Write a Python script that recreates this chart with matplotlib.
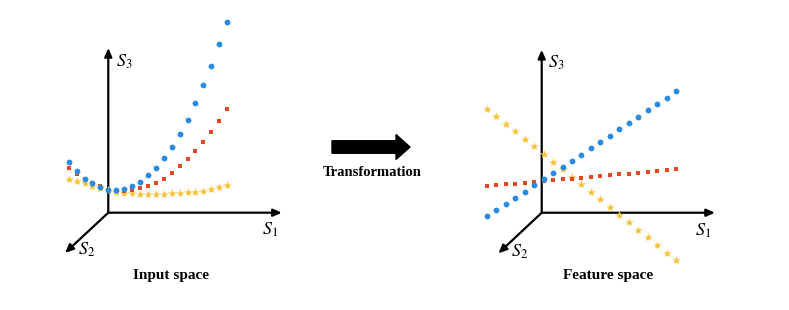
import matplotlib
matplotlib.use("Agg")
import matplotlib.pyplot as plt
from matplotlib.patches import FancyArrow

plt.rcParams['mathtext.fontset'] = 'stix'

# Input space (S1 position, S3 height)
s1_in = [-5, -4, -3, -2, -1, 0, 1, 2, 3, 4, 5, 6, 7, 8, 9, 10, 11, 12, 13, 14, 15]
blue_in = [6.4, 5.3, 4.3, 3.7, 3.3, 2.9, 2.9, 3.0, 3.4, 3.9, 4.7, 5.7, 6.9, 8.3, 9.9, 11.7, 13.8, 16.1, 18.5, 21.3, 24.1]
red_in = [5.6, 4.9, 4.3, 3.8, 3.4, 2.9, 2.8, 2.8, 2.9, 3.1, 3.4, 3.8, 4.3, 5.0, 5.9, 6.8, 7.8, 8.9, 10.2, 11.6, 13.1]
yellow_in = [4.3, 4.0, 3.7, 3.4, 3.1, 2.9, 2.65, 2.5, 2.45, 2.4, 2.35, 2.3, 2.4, 2.45, 2.5, 2.6, 2.65, 2.8, 3.0, 3.2, 3.5]

# Feature space
s1_ft = [-5.8, -4.8, -3.8, -2.8, -1.8, -0.8, 0.2, 1.2, 2.2, 3.2, 4.2, 5.2, 6.2, 7.2, 8.2, 9.2, 10.2, 11.2, 12.2, 13.2, 14.2]
blue_ft = [-0.35, 0.25, 0.9, 1.55, 2.2, 2.9, 3.6, 4.2, 4.85, 5.5, 6.1, 6.8, 7.45, 8.1, 8.8, 9.45, 10.1, 10.8, 11.45, 12.1, 12.8]
red_ft = [2.82, 2.9, 2.99, 3.08, 3.17, 3.26, 3.34, 3.43, 3.52, 3.61, 3.7, 3.79, 3.87, 3.96, 4.05, 4.14, 4.23, 4.31, 4.4, 4.49, 4.58]
yellow_ft = [11.0, 10.2, 9.4, 8.6, 7.8, 7.0, 6.2, 5.4, 4.6, 3.8, 3.0, 2.2, 1.4, 0.6, -0.2, -1.0, -1.8, -2.6, -3.4, -4.2, -5.0]

c_blue = '#2a8be3'
c_red = '#e5481e'
c_yellow = '#f5bf2e'

fig = plt.figure(figsize=(7.89, 3.10), dpi=100)


def panel(rect, xlim, ylim, s1, blue, red, yellow, ends, lbls, title):
    ax = fig.add_axes(rect)
    ax.set_xlim(xlim)
    ax.set_ylim(ylim)
    ax.axis('off')
    ap = dict(arrowstyle='-|>,head_length=0.5,head_width=0.22', color='black', lw=1.6, shrinkA=0, shrinkB=0)
    for e in ends:
        ax.annotate('', xy=e, xytext=(0, 0), arrowprops=ap)
    ax.plot(s1, yellow, '*', color=c_yellow, ms=6, mew=0.4, mec='#f9d77a', zorder=3)
    ax.plot(s1, red, 's', color=c_red, ms=3.4, mew=0, zorder=4)
    ax.plot(s1, blue, 'o', color=c_blue, ms=4.2, mew=0, zorder=5)
    for (x, y, t) in lbls:
        ax.text(x, y, t, fontsize=13, ha='center', va='center')
    ax.text(title[0], title[1], title[2], fontsize=11, fontweight='bold',
            family='Liberation Serif', ha='center', va='center')
    return ax


panel([40 / 789, 0, 260 / 789, 1], (-8.62, 24.2), (-12.29, 26.86),
      s1_in, blue_in, red_in, yellow_in,
      [(21.9, 0), (0, 20.8), (-5.47, -5.09)],
      [(2.0, 19.0, '$S_3$'), (20.4, -2.2, '$S_1$'), (-2.7, -4.7, '$S_2$')],
      (7.9, -7.9, 'Input space'))

panel([460 / 789, 0, 280 / 789, 1], (-8.63, 20.94), (-10.27, 22.46),
      s1_ft, blue_ft, red_ft, yellow_ft,
      [(18.3, 0), (0, 17.2), (-4.58, -4.29)],
      [(1.5, 15.8, '$S_3$'), (17.0, -1.9, '$S_1$'), (-2.3, -4.15, '$S_2$')],
      (7.0, -6.6, 'Feature space'))

fig.add_artist(FancyArrow(332 / 789, 1 - 147 / 310, 64 / 789, 0, width=12.5 / 310,
                          head_width=25 / 310, head_length=14 / 789,
                          length_includes_head=False, color='black',
                          transform=fig.transFigure))
fig.text(372 / 789, 1 - 172 / 310, 'Transformation', fontsize=10.5, fontweight='bold',
         family='Liberation Serif', ha='center', va='center')

fig.savefig('out.png', dpi=100)
